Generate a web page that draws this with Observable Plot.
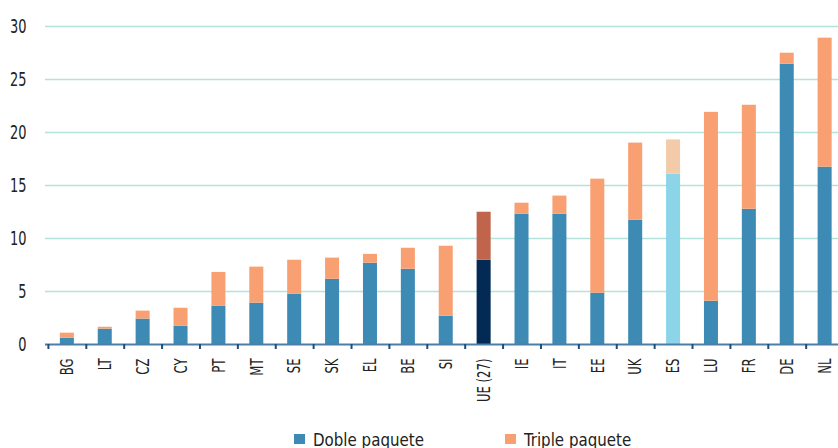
<!DOCTYPE html>
<html>
<head>
<meta charset="utf-8">
<script src="https://cdn.jsdelivr.net/npm/d3@7"></script>
<script src="https://cdn.jsdelivr.net/npm/@observablehq/plot@0.6"></script>
<style>
  html, body { margin: 0; padding: 0; background: #fff; }
  #wrap { position: relative; width: 838px; height: 448px; overflow: hidden; font-family: "DejaVu Sans Condensed", "Liberation Sans Narrow", sans-serif; }
  #legend { position: absolute; top: 429px; left: 0; width: 838px; height: 20px; font-size: 18px; color: #222; }
  .item { position: absolute; top: 0; display: flex; align-items: center; height: 20px; }
  .sw { width: 11px; height: 10px; margin-right: 8px; display: inline-block; flex: none; }
  .lt { display: inline-block; transform: scaleX(0.93); transform-origin: left center; white-space: nowrap; }
</style>
</head>
<body>
<div id="wrap"></div>
<script>
const countries = ["BG","LT","CZ","CY","PT","MT","SE","SK","EL","BE","SI","UE (27)","IE","IT","EE","UK","ES","LU","FR","DE","NL"];
const doble   = [0.6, 1.45, 2.4, 1.73, 3.6, 3.9, 4.75, 6.15, 7.67, 7.1, 2.67, 7.95, 12.3, 12.3, 4.84, 11.73, 16.07, 4.08, 12.76, 26.44, 16.73];
const triple  = [0.47, 0.18, 0.75, 1.69, 3.2, 3.4, 3.2, 2.0, 0.83, 1.98, 6.6, 4.53, 1.03, 1.7, 10.76, 7.27, 3.23, 17.82, 9.81, 1.04, 12.17];
const series = ["Doble paquete", "Triple paquete"];
const yTicks = [0, 5, 10, 15, 20, 25, 30];

const palette = {
  "Doble paquete": "#3d8ab5",
  "Triple paquete": "#f8a072"
};
const special = {
  "UE (27)": {"Doble paquete": "#022a54", "Triple paquete": "#c0644c"},
  "ES": {"Doble paquete": "#8cd5e9", "Triple paquete": "#f3cba8"}
};
const colorFor = d => (special[d.country] ? special[d.country][d.serie] : palette[d.serie]);

const rows = countries.flatMap((c, i) => [
  {country: c, serie: series[0], value: doble[i]},
  {country: c, serie: series[1], value: triple[i]}
]);

const fontFam = '"DejaVu Sans Condensed", "Liberation Sans Narrow", sans-serif';
const squeeze = 0.72;

const xOpts = {type: "band", domain: countries, paddingInner: 0.63, paddingOuter: 0.28, align: 0.7, round: false};
const step = 793 / (countries.length - xOpts.paddingInner + 2 * xOpts.paddingOuter);

const chart = Plot.plot({
  width: 838,
  height: 448,
  marginLeft: 45,
  marginRight: 0,
  marginTop: 26,
  marginBottom: 104,
  style: {fontFamily: fontFam, color: "#222", background: "transparent", overflow: "visible"},
  x: xOpts,
  y: {domain: [0, 30]},
  color: {type: "identity"},
  marks: [
    Plot.ruleY(yTicks.filter(t => t > 0), {y: d => d, stroke: "#b3e3dc", strokeWidth: 1.6}),
    Plot.barY(rows, Plot.stackY({x: "country", y: "value", z: "serie", fill: colorFor})),
    Plot.ruleY([0], {stroke: "#4d7fa6", strokeWidth: 2}),
    Plot.axisX({ticks: countries, tickSize: 5, dx: -step / 2, text: null, stroke: "#1d4e7a", strokeWidth: 2, label: null}),
    Plot.axisX({tickSize: 0, tickPadding: 14, tickRotate: -90, fontSize: 18, label: null, fill: "#222"}),
    Plot.axisY({ticks: yTicks, tickSize: 0, tickPadding: 19, fontSize: 20, label: null, fill: "#222"})
  ]
});

// condense axis label glyphs horizontally (along reading direction)
chart.querySelectorAll("text").forEach(t => {
  const tr = t.getAttribute("transform");
  if (tr) {
    t.setAttribute("transform", tr + ` scale(${squeeze},1)`);
  } else {
    const x = +(t.getAttribute("x") || 0);
    const y = t.getAttribute("y");
    const yNum = y && !/em$/.test(y) ? +y : 0;
    t.setAttribute("transform", `translate(${x},${yNum}) scale(${squeeze},1)`);
    t.setAttribute("x", 0);
    if (y && !/em$/.test(y)) t.setAttribute("y", 0);
  }
});

const wrap = document.getElementById("wrap");
chart.style.display = "block";
wrap.appendChild(chart);

const legend = document.createElement("div");
legend.id = "legend";
const lefts = [294, 505];
series.forEach((s, i) => {
  const it = document.createElement("div");
  it.className = "item";
  it.style.left = lefts[i] + "px";
  const sw = document.createElement("span");
  sw.className = "sw";
  sw.style.background = palette[s];
  const tx = document.createElement("span");
  tx.className = "lt";
  tx.textContent = s;
  it.appendChild(sw);
  it.appendChild(tx);
  legend.appendChild(it);
});
wrap.appendChild(legend);
</script>
</body>
</html>
